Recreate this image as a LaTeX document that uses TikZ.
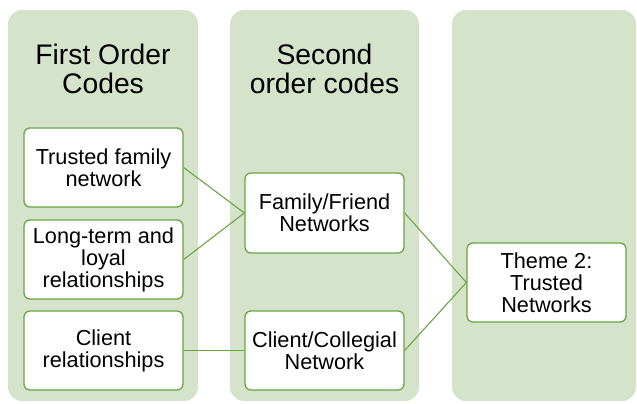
\documentclass[tikz,border=0pt]{standalone}
\usepackage{fontspec}
\setmainfont{Liberation Sans}
\definecolor{colfill}{HTML}{D5E3CB}
\definecolor{boxgreen}{HTML}{6AA544}
\begin{document}
\begin{tikzpicture}[x=1pt,y=1pt,
  column/.style={fill=colfill, draw=none, rounded corners=14pt},
  codebox/.style={draw=boxgreen, line width=1.3pt, fill=white, rounded corners=6pt,
    minimum width=159pt, minimum height=79pt, inner sep=0pt, align=center,
    font=\fontsize{21.7}{22}\selectfont},
  heading/.style={align=center, inner sep=0pt, font=\fontsize{28.3}{29}\selectfont},
  link/.style={draw=boxgreen, line width=1.1pt}]
\useasboundingbox (0,0) rectangle (637,404);
% columns
\path[column] (8,3) rectangle (198,394);
\path[column] (230,3) rectangle (419,394);
\path[column] (452,3) rectangle (636,394);
% headings
\node[heading] (h1) at (103,335.5) {First Order\\Codes};
\node[heading] (h2) at (324.5,335.5) {Second\\order codes};
% first order boxes
\node[codebox] (tf) at (103.5,236.5) {Trusted family\\network};
\node[codebox] (lt) at (103.5,144.5) {Long-term and\\loyal\\relationships};
\node[codebox] (cr) at (103.5,53.5) {Client\\relationships};
% second order boxes
\node[codebox, minimum height=80pt] (ff) at (324.5,191) {Family/Friend\\Networks};
\node[codebox] (cc) at (324.5,53.5) {Client/Collegial\\Network};
% theme
\node[codebox] (th) at (546.5,121.5) {Theme 2:\\Trusted\\Networks};
% links
\draw[link] (tf.east) -- (ff.west);
\draw[link] (lt.east) -- (ff.west);
\draw[link] (cr.east) -- (cc.west);
\draw[link] (ff.east) -- (th.west);
\draw[link] (cc.east) -- (th.west);
\end{tikzpicture}
\end{document}
